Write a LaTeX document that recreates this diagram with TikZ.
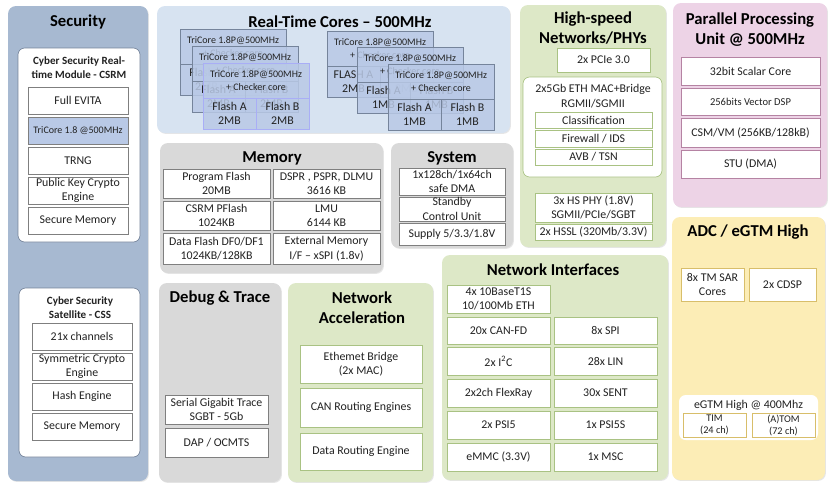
\documentclass[tikz,border=0pt]{standalone}
\usepackage{fontspec}
\setmainfont{Carlito}
\usetikzlibrary{shadows}
\definecolor{secblue}{HTML}{A7B9D1}
\definecolor{rtblue}{HTML}{D7E3F1}
\definecolor{coreblue}{HTML}{B9C9E6}
\definecolor{coreedge}{HTML}{75849B}
\definecolor{sysgrey}{HTML}{D9D9D9}
\definecolor{netgreen}{HTML}{DDE8C7}
\definecolor{ppupink}{HTML}{EDD3E6}
\definecolor{adcyellow}{HTML}{FCEDB6}
\definecolor{boxgrey}{HTML}{7F7F7F}
\definecolor{greenedge}{HTML}{A9C283}
\definecolor{pinkedge}{HTML}{B583A3}
\definecolor{yellowedge}{HTML}{D8BE6A}
\definecolor{txtgrey}{HTML}{222222}
\begin{document}
\begin{tikzpicture}[x=0.75pt,y=0.75pt,yscale=-1,xscale=1,
  panel/.style={rounded corners=6pt, drop shadow={shadow xshift=0.7pt, shadow yshift=-0.7pt, opacity=0.2}},
  group/.style={rounded corners=5pt, fill=white},
  box/.style={draw=boxgrey, fill=white, line width=0.5pt},
  core/.style={draw=coreedge, fill=coreblue, fill opacity=0.85, line width=0.6pt},
  title/.style={font=\fontsize{12.5}{15}\selectfont\bfseries, align=center, inner sep=0.75pt},
  subtitle/.style={font=\fontsize{8.3}{10.5}\selectfont\bfseries, align=center, inner sep=0.75pt, text=txtgrey},
  txt/.style={font=\fontsize{8.9}{10.8}\selectfont, align=center, inner sep=0.75pt, text=txtgrey},
  small/.style={font=\fontsize{7.5}{9.8}\selectfont, align=center, inner sep=0.75pt, text=txtgrey}]
\useasboundingbox (0,0) rectangle (831,487);

% Panels
\fill[panel, fill=secblue] (8,6) rectangle (148,481);
\fill[panel, fill=rtblue] (157,6) rectangle (510,133);
\fill[panel, fill=sysgrey] (160,143) rectangle (383,273);
\fill[panel, fill=sysgrey] (391,143) rectangle (513,248);
\fill[panel, fill=netgreen] (520,5) rectangle (666,247);
\fill[panel, fill=ppupink] (673,3) rectangle (827,207);
\fill[panel, fill=adcyellow] (672,217) rectangle (825,480);
\fill[panel, fill=sysgrey] (159,283) rectangle (281,482);
\fill[panel, fill=netgreen] (288,283) rectangle (433,482);
\fill[panel, fill=netgreen] (442,255) rectangle (668,480);

% Titles
\node[title] (t-sec) at (78,22) {Security};
\node[title] (t-rtc) at (340,22) {Real-Time Cores -- 500MHz};
\node[title] (t-mem) at (272,158) {Memory};
\node[title] (t-sys) at (452,158) {System};
\node[title] (t-hs) at (593,28) {High-speed\\Networks/PHYs};
\node[title] (t-ppu) at (750,30) {Parallel Processing\\Unit @ 500MHz};
\node[title] (t-adc) at (748,232) {ADC / eGTM High};
\node[title] (t-dbg) at (220,298) {Debug \& Trace};
\node[title] (t-acc) at (362,308) {Network\\Acceleration};
\node[title] (t-nif) at (553,270) {Network Interfaces};

% Security: CSRM
\draw[group, draw=coreedge, line width=0.5pt] (18,48) rectangle (140,242);
\node[subtitle] (csrm) at (79,68) {Cyber Security Real-\\time Module - CSRM};
\draw[box] (28,87) rectangle (128,114);
\node[txt] (evita) at (78,100.5) {Full EVITA};
\draw[box, fill=coreblue] (28,117) rectangle (128,144);
\node[small] (csrm-core) at (78,130.5) {TriCore 1.8 @500MHz};
\draw[box] (28,147) rectangle (128,174);
\node[txt] (trng) at (78,160.5) {TRNG};
\draw[box] (28,177) rectangle (128,204);
\node[txt] (pkc) at (78,190.5) {Public Key Crypto\\Engine};
\draw[box] (28,207) rectangle (128,234);
\node[txt] (csrm-mem) at (78,220.5) {Secure Memory};

% Security: CSS
\draw[group, draw=coreedge, line width=0.5pt] (19,288) rectangle (140,457);
\node[subtitle] (css) at (80,308) {Cyber Security\\Satellite - CSS};
\draw[box] (32,323) rectangle (132,350);
\node[txt] (chan) at (82,336.5) {21x channels};
\draw[box] (32,353) rectangle (132,380);
\node[txt] (sym) at (82,366.5) {Symmetric Crypto\\Engine};
\draw[box] (32,383) rectangle (132,410);
\node[txt] (hash) at (82,396.5) {Hash Engine};
\draw[box] (32,413) rectangle (132,440);
\node[txt] (css-mem) at (82,426.5) {Secure Memory};

% Real-time cores, left stack
\draw[core] (180,29) rectangle (286,95);
\draw[coreedge] (180,64) -- (286,64) (233,64) -- (233,95);
\node[small] (la-cpu) at (233,46.5) {TriCore 1.8P@500MHz\\+ Checker core};
\node[txt] (la-fa) at (206.5,79.5) {Flash A\\2MB};
\node[txt] (la-fb) at (259.5,79.5) {Flash B\\2MB};
\draw[core] (192,46) rectangle (298,112);
\draw[coreedge] (192,81) -- (298,81) (245,81) -- (245,112);
\node[small] (lb-cpu) at (245,63.5) {TriCore 1.8P@500MHz\\+ Checker core};
\node[txt] (lb-fa) at (218.5,96.5) {Flash A\\2MB};
\node[txt] (lb-fb) at (271.5,96.5) {Flash B\\2MB};
\draw[core, draw=coreblue!60!blue!60] (203,63) rectangle (309,129);
\draw[coreblue!60!blue!60] (203,98) -- (309,98) (256,98) -- (256,129);
\node[small] (lc-cpu) at (256,80.5) {TriCore 1.8P@500MHz\\+ Checker core};
\node[txt] (lc-fa) at (229.5,113.5) {Flash A\\2MB};
\node[txt] (lc-fb) at (282.5,113.5) {Flash B\\2MB};

% Real-time cores, right stack
\draw[core] (327,31) rectangle (433,97);
\draw[coreedge] (327,66) -- (433,66) (380,66) -- (380,97);
\node[small] (ra-cpu) at (380,48.5) {TriCore 1.8P@500MHz\\+ Checker core};
\node[txt] (ra-fa) at (353.5,81.5) {FLASH A\\2MB};
\node[txt] (ra-fb) at (406.5,81.5) {FLASH B\\2MB};
\draw[core] (357,47) rectangle (463,113);
\draw[coreedge] (357,82) -- (463,82) (410,82) -- (410,113);
\node[small] (rb-cpu) at (410,64.5) {TriCore 1.8P@500MHz\\+ Checker core};
\node[txt] (rb-fa) at (383.5,97.5) {Flash A\\1MB};
\node[txt] (rb-fb) at (436.5,97.5) {Flash B\\1MB};
\draw[core] (388,64) rectangle (494,130);
\draw[coreedge] (388,99) -- (494,99) (441,99) -- (441,130);
\node[small] (rc-cpu) at (441,81.5) {TriCore 1.8P@500MHz\\+ Checker core};
\node[txt] (rc-fa) at (414.5,114.5) {Flash A\\1MB};
\node[txt] (rc-fb) at (467.5,114.5) {Flash B\\1MB};

% Memory
\draw[box] (163,169) rectangle (270,198);
\node[txt] (pflash) at (216.5,183.5) {Program Flash\\20MB};
\draw[box] (273,169) rectangle (380,198);
\node[txt] (dspr) at (326.5,183.5) {DSPR , PSPR, DLMU\\3616 KB};
\draw[box] (163,201) rectangle (270,230);
\node[txt] (csrmflash) at (216.5,215.5) {CSRM PFlash\\1024KB};
\draw[box] (273,201) rectangle (380,230);
\node[txt] (lmu) at (326.5,215.5) {LMU\\6144 KB};
\draw[box] (163,233) rectangle (270,264);
\node[txt] (dflash) at (216.5,248.5) {Data Flash DF0/DF1\\1024KB/128KB};
\draw[box] (273,233) rectangle (380,264);
\node[txt] (xspi) at (326.5,248.5) {External Memory\\I/F -- xSPI (1.8v)};

% System
\draw[box] (399,168) rectangle (505,195);
\node[txt] (dma) at (452,181.5) {1x128ch/1x64ch\\safe DMA};
\draw[box] (399,197) rectangle (505,221);
\node[txt] (scu) at (452,209) {Standby\\Control Unit};
\draw[box] (399,223) rectangle (505,245);
\node[txt] (supply) at (452,234) {Supply 5/3.3/1.8V};

% High-speed networks
\draw[box, draw=greenedge] (557,48) rectangle (650,72);
\node[txt] (pcie) at (603.5,60) {2x PCIe 3.0};
\draw[group, draw=greenedge, line width=0.5pt] (523,77) rectangle (662,177);
\node[txt] (eth) at (593,96) {2x5Gb ETH MAC+Bridge\\RGMII/SGMII};
\draw[box, draw=greenedge] (535,112) rectangle (652,128);
\node[txt] (class) at (593.5,120) {Classification};
\draw[box, draw=greenedge] (535,130) rectangle (652,147);
\node[txt] (fw) at (593.5,138.5) {Firewall / IDS};
\draw[box, draw=greenedge] (535,149) rectangle (652,165);
\node[txt] (avb) at (593.5,157) {AVB / TSN};
\draw[box, draw=greenedge] (535,193) rectangle (652,222);
\node[txt] (phy) at (593.5,207.5) {3x HS PHY (1.8V)\\SGMII/PCIe/SGBT};
\draw[box, draw=greenedge] (535,224) rectangle (652,240);
\node[txt] (hssl) at (593.5,232) {2x HSSL (320Mb/3.3V)};

% Parallel processing unit
\draw[box, draw=pinkedge] (681,57) rectangle (820,85);
\node[txt] (scalar) at (750.5,71) {32bit Scalar Core};
\draw[box, draw=pinkedge] (681,88) rectangle (820,115);
\node[small, font=\fontsize{7.9}{9}\selectfont] (vdsp) at (750.5,101.5) {256bits Vector DSP};
\draw[box, draw=pinkedge] (681,118) rectangle (820,147);
\node[txt] (csm) at (750.5,132.5) {CSM/VM (256KB/128kB)};
\draw[box, draw=pinkedge] (681,150) rectangle (820,178);
\node[txt] (stu) at (750.5,164) {STU (DMA)};

% ADC / eGTM
\draw[box, draw=yellowedge] (681,268) rectangle (744,301);
\node[txt] (sar) at (712.5,284.5) {8x TM SAR\\Cores};
\draw[box, draw=yellowedge] (749,268) rectangle (816,301);
\node[txt] (cdsp) at (782.5,284.5) {2x CDSP};
\fill[group] (679,395) rectangle (818,440);
\node[txt] (egtm) at (748.5,405) {eGTM High @ 400Mhz};
\draw[box, draw=yellowedge] (683,413) rectangle (746,437);
\node[small, font=\fontsize{7.7}{9}\selectfont] (tim) at (714.5,425) {TIM\\(24 ch)};
\draw[box, draw=yellowedge] (752,413) rectangle (815,437);
\node[small, font=\fontsize{7.7}{9}\selectfont] (atom) at (783.5,425) {(A)TOM\\(72 ch)};

% Debug & trace
\draw[box] (165,395) rectangle (268,424);
\node[txt] (sgbt) at (216.5,409.5) {Serial Gigabit Trace\\SGBT - 5Gb};
\draw[box] (165,428) rectangle (268,457);
\node[txt] (dap) at (216.5,442.5) {DAP / OCMTS};

% Network acceleration
\draw[box, draw=greenedge] (300,345) rectangle (422,383);
\node[txt] (bridge) at (361,364) {Ethemet Bridge\\(2x MAC)};
\draw[box, draw=greenedge] (300,388) rectangle (422,427);
\node[txt] (canre) at (361,407.5) {CAN Routing Engines};
\draw[box, draw=greenedge] (300,433) rectangle (422,470);
\node[txt] (dre) at (361,451.5) {Data Routing Engine};

% Network interfaces
\draw[box, draw=greenedge] (447,285) rectangle (550,313);
\node[txt] (t1s) at (498.5,299) {4x 10BaseT1S\\10/100Mb ETH};
\draw[box, draw=greenedge] (447,317) rectangle (550,344);
\node[txt] (canfd) at (498.5,330.5) {20x CAN-FD};
\draw[box, draw=greenedge] (554,317) rectangle (657,344);
\node[txt] (spi) at (605.5,330.5) {8x SPI};
\draw[box, draw=greenedge] (447,347) rectangle (550,375);
\node[txt] (i2c) at (498.5,361) {2x I\textsuperscript{2}C};
\draw[box, draw=greenedge] (554,347) rectangle (657,375);
\node[txt] (lin) at (605.5,361) {28x LIN};
\draw[box, draw=greenedge] (447,379) rectangle (550,407);
\node[txt] (flexray) at (498.5,393) {2x2ch FlexRay};
\draw[box, draw=greenedge] (554,379) rectangle (657,407);
\node[txt] (sent) at (605.5,393) {30x SENT};
\draw[box, draw=greenedge] (447,411) rectangle (550,439);
\node[txt] (psi5) at (498.5,425) {2x PSI5};
\draw[box, draw=greenedge] (554,411) rectangle (657,439);
\node[txt] (psi5s) at (605.5,425) {1x PSI5S};
\draw[box, draw=greenedge] (447,443) rectangle (550,471);
\node[txt] (emmc) at (498.5,457) {eMMC (3.3V)};
\draw[box, draw=greenedge] (554,443) rectangle (657,471);
\node[txt] (msc) at (605.5,457) {1x MSC};

\end{tikzpicture}
\end{document}
